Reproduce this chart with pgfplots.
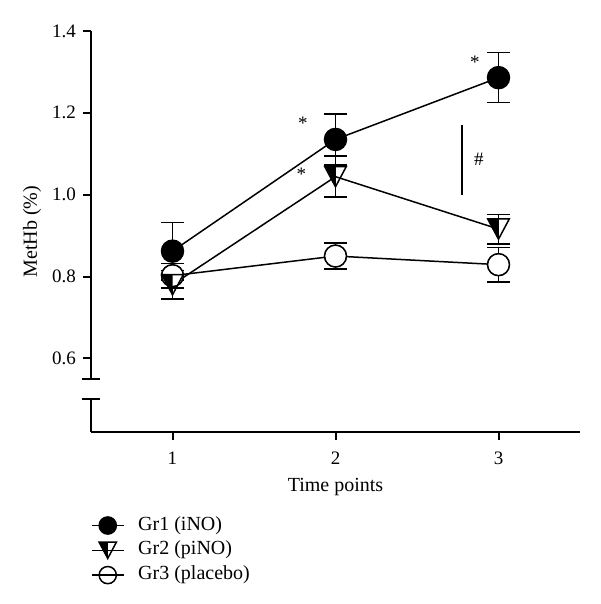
\documentclass[border=0pt]{standalone}
\usepackage{pgfplots}
\pgfplotsset{compat=1.18}
\usepackage{pgfplotstable}
\usepackage{fontspec}
\setmainfont{Liberation Serif}

\pgfdeclareplotmark{halftri}{%
  \pgfpathmoveto{\pgfpoint{-\pgfplotmarksize}{0.94\pgfplotmarksize}}%
  \pgfpathlineto{\pgfpoint{0pt}{0.94\pgfplotmarksize}}%
  \pgfpathlineto{\pgfpoint{0pt}{-0.94\pgfplotmarksize}}%
  \pgfpathclose
  \pgfusepathqfill
  \pgfpathmoveto{\pgfpoint{-\pgfplotmarksize}{0.94\pgfplotmarksize}}%
  \pgfpathlineto{\pgfpoint{\pgfplotmarksize}{0.94\pgfplotmarksize}}%
  \pgfpathlineto{\pgfpoint{0pt}{-0.94\pgfplotmarksize}}%
  \pgfpathclose
  \pgfusepathqstroke
}

\pgfplotstableread{
x y e
1 0.862 0.070
2 1.135 0.062
3 1.286 0.061
}\gra
\pgfplotstableread{
x y e
1 0.780 0.035
2 1.044 0.050
3 0.916 0.036
}\grb
\pgfplotstableread{
x y e
1 0.802 0.030
2 0.850 0.032
3 0.829 0.042
}\grc

\begin{document}
\begin{tikzpicture}
\useasboundingbox (-45.5pt,-86pt) rectangle (254.5pt,216pt);
\begin{axis}[
  at={(0,0)}, anchor=south west,
  scale only axis, width=244.5pt, height=200.5pt,
  xmin=0.5, xmax=3.5, ymin=0.42, ymax=1.4,
  clip=false,
  axis x line*=bottom, axis y line*=left,
  y axis line style={draw=none},
  x axis line style={line width=1pt, -},
  xtick={1,2,3}, ytick={0.6,0.8,1.0,1.2,1.4},
  tick align=outside, major tick length=4pt,
  tick style={line width=1pt, black},
  /pgf/number format/assume math mode=true,
  tick label style={font=\fontsize{9.5}{10}\selectfont},
  xticklabel style={yshift=-2.5pt},
  yticklabel style={/pgf/number format/.cd, fixed, fixed zerofill, precision=1},
  xlabel={Time points},
  ylabel={MetHb (\%)},
  label style={font=\fontsize{10}{12}\selectfont},
  xlabel style={at={(axis description cs:0.5,-0.137)}, anchor=center},
  ylabel style={at={(axis description cs:-0.1207,0.5)}, anchor=center},
  legend cell align=left,
  legend image code/.code={\draw[mark repeat=2,mark phase=2,#1] plot coordinates {(0pt,0pt) (8pt,0pt) (16pt,0pt)};},
  every legend image post/.style={mark size=4.3pt},
  legend style={draw=none, fill=none, inner sep=0pt, outer sep=0pt,
    at={(axis description cs:0,-0.2095)}, anchor=north west,
    font=\fontsize{10}{12}\selectfont,
    row sep=2.9pt, column sep=6.85pt,
    nodes={inner sep=0pt, text height=7pt, text depth=2.5pt}},
]
% Gr3 helpers (error bars and white interior)
\addplot[forget plot, draw=none, mark=none,
  error bars/.cd, y dir=both, y explicit,
  error bar style={draw=black, line width=0.75pt},
  error mark options={rotate=90, draw=black, line width=0.75pt, mark size=5.8pt}]
  table[x=x, y=y, y error=e] {\grc};
\addplot[forget plot, only marks, mark=*, mark size=5.5pt,
  mark options={draw=none, fill=white}] table[x=x, y=y] {\grc};

\addplot[black, line width=0.75pt, mark=*, mark size=5.5pt,
  mark options={fill=black},
  error bars/.cd, y dir=both, y explicit,
  error bar style={line width=0.75pt},
  error mark options={rotate=90, line width=0.75pt, mark size=5.8pt}]
  table[x=x, y=y, y error=e] {\gra};
\addlegendentry{Gr1 (iNO)}

\addplot[black, line width=0.75pt, mark=halftri, mark size=5.4pt,
  mark options={fill=black},
  error bars/.cd, y dir=both, y explicit,
  error bar style={line width=0.75pt},
  error mark options={rotate=90, line width=0.75pt, mark size=5.8pt}]
  table[x=x, y=y, y error=e] {\grb};
\addlegendentry{Gr2 (piNO)}

\addplot[black, line width=0.75pt, mark=o, mark size=5.5pt]
  table[x=x, y=y] {\grc};
\addlegendentry{Gr3 (placebo)}

% broken y axis
\draw[line width=1pt] (axis cs:0.5,1.4) -- (axis cs:0.5,0.55);
\draw[line width=1pt] (axis cs:0.5,0.5) -- (axis cs:0.5,0.42);
\draw[line width=1pt] ([xshift=-4.5pt]axis cs:0.5,0.55) -- ([xshift=4.5pt]axis cs:0.5,0.55);
\draw[line width=1pt] ([xshift=-4.5pt]axis cs:0.5,0.5) -- ([xshift=4.5pt]axis cs:0.5,0.5);

% annotations
\node[font=\fontsize{9.5}{10}\selectfont, yshift=-1.5pt] at (axis cs:1.80,1.181) {*};
\node[font=\fontsize{9.5}{10}\selectfont, yshift=-1.5pt] at (axis cs:1.79,1.056) {*};
\node[font=\fontsize{9.5}{10}\selectfont, yshift=-1.5pt] at (axis cs:2.855,1.331) {*};
\draw[line width=0.75pt] (axis cs:2.775,1.17) -- (axis cs:2.775,1.0);
\node[font=\fontsize{9.5}{10}\selectfont] at (axis cs:2.88,1.087) {\#};
\end{axis}
\end{tikzpicture}
\end{document}
